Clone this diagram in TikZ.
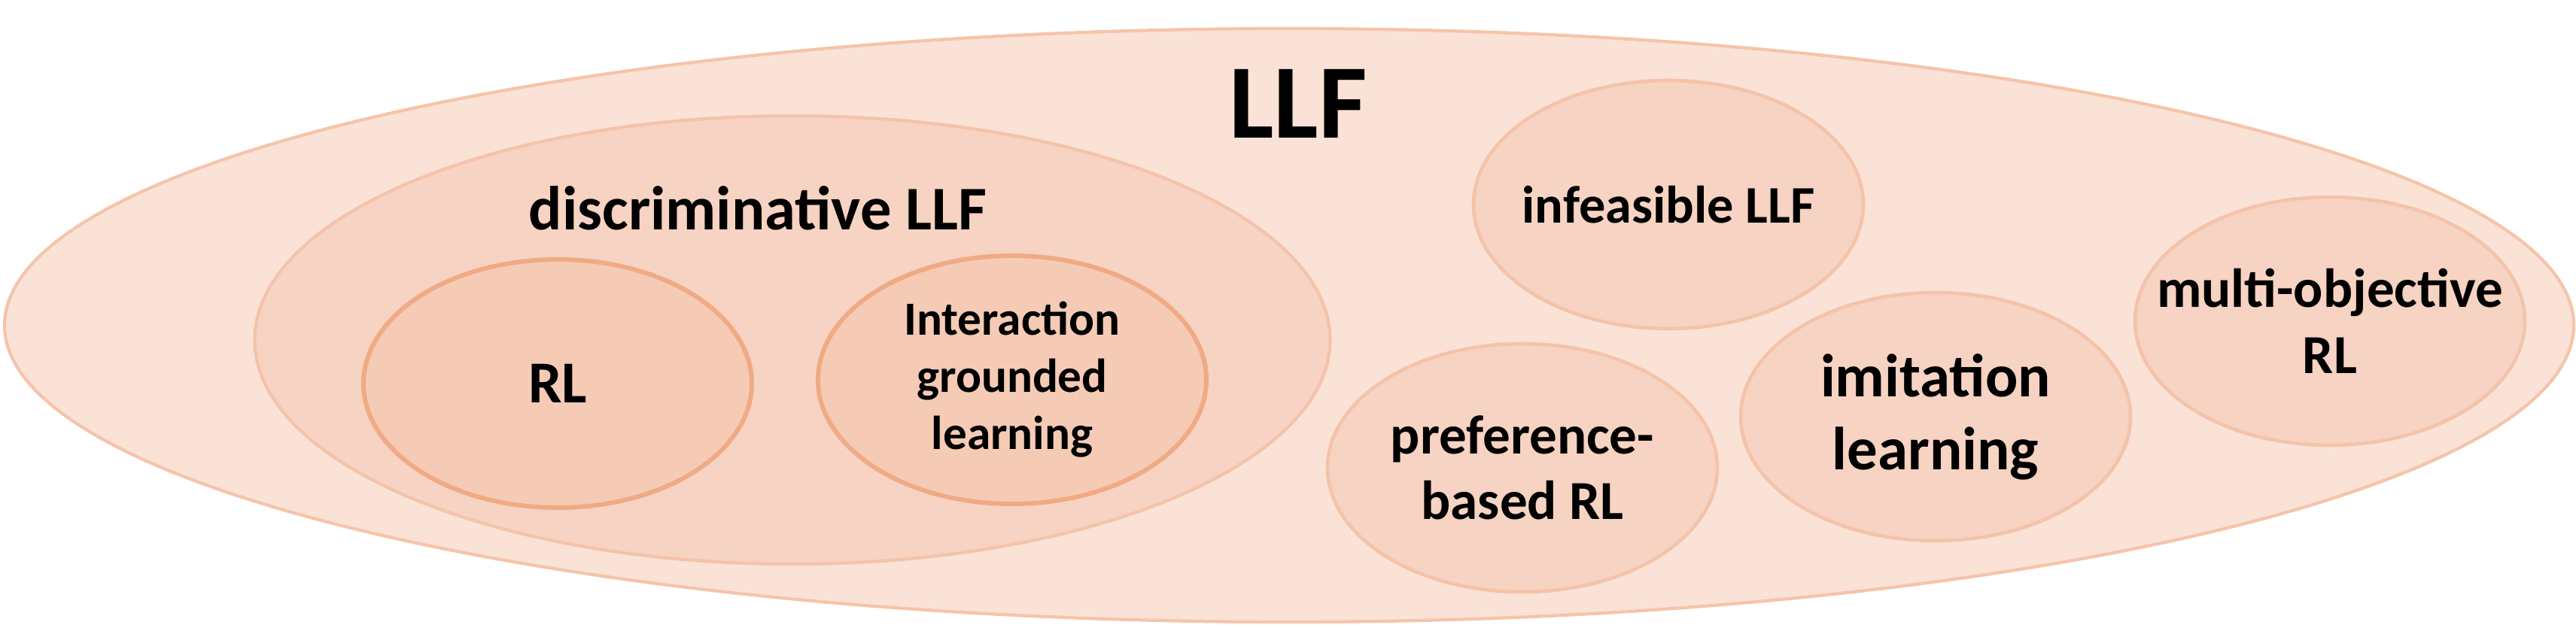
\documentclass[tikz,border=0pt]{standalone}
\usepackage{fontspec}
\setmainfont{Carlito}
\usepackage{tikz}
\usepackage{xcolor}
\usetikzlibrary{shapes.geometric}

\definecolor{llfFill}{HTML}{FAE2D7}
\definecolor{llfLine}{HTML}{F5C4AA}
\definecolor{discFill}{HTML}{F6D3C2}
\definecolor{discLine}{HTML}{F4C3A9}
\definecolor{rlFill}{HTML}{F5CBB6}
\definecolor{rlLine}{HTML}{F0AA84}

\begin{document}
\begin{tikzpicture}[
    outerset/.style={
        ellipse,
        draw=llfLine,
        fill=llfFill,
        line width=1.2pt,
        inner sep=0pt,
        minimum width=34.14cm,
        minimum height=7.89cm
    },
    discset/.style={
        ellipse,
        draw=discLine,
        fill=discFill,
        line width=1.2pt,
        inner sep=0pt,
        minimum width=14.29cm,
        minimum height=5.96cm
    },
    innerset/.style={
        ellipse,
        draw=rlLine,
        fill=rlFill,
        line width=1.7pt,
        inner sep=-1cm,
        minimum width=5.16cm,
        minimum height=3.30cm,
        align=center
    },
    sideset/.style={
        ellipse,
        draw=discLine,
        fill=discFill,
        line width=1.3pt,
        inner sep=-1cm,
        minimum width=5.18cm,
        minimum height=3.30cm,
        align=center
    },
    txtsize/.style={
        align=center,
        font=\bfseries\fontsize{#1pt}{1.2\dimexpr#1pt\relax}\selectfont
    }
]
\useasboundingbox (0,0) rectangle (34.23,8.34);
\node (llf) [outerset] at (17.13,4.015) {};
\node (llftitle) [inner sep=0pt, txtsize=40] at (17.25,6.96) {LLF};
\node (disc) [discset] at (10.53,3.82) {};
\node (disctitle) [inner sep=0pt, txtsize=23.5] at (10.07,5.57) {discriminative LLF};
\node (rl) [innerset, txtsize=22.5] at (7.41,3.24) {RL};
\node (igl) [innerset, txtsize=18] at (13.45,3.29) {Interaction\\grounded\\learning};
\node (infeasible) [sideset, txtsize=20] at (22.17,5.62) {infeasible LLF};
\node (pref) [sideset, txtsize=20.8] at (20.23,2.12) {preference-\\based RL};
\node (imitation) [sideset, txtsize=23] at (25.72,2.80) {imitation\\learning};
\node (multi) [sideset, txtsize=20.8] at (30.96,4.07) {multi-objective\\RL};
\end{tikzpicture}
\end{document}
